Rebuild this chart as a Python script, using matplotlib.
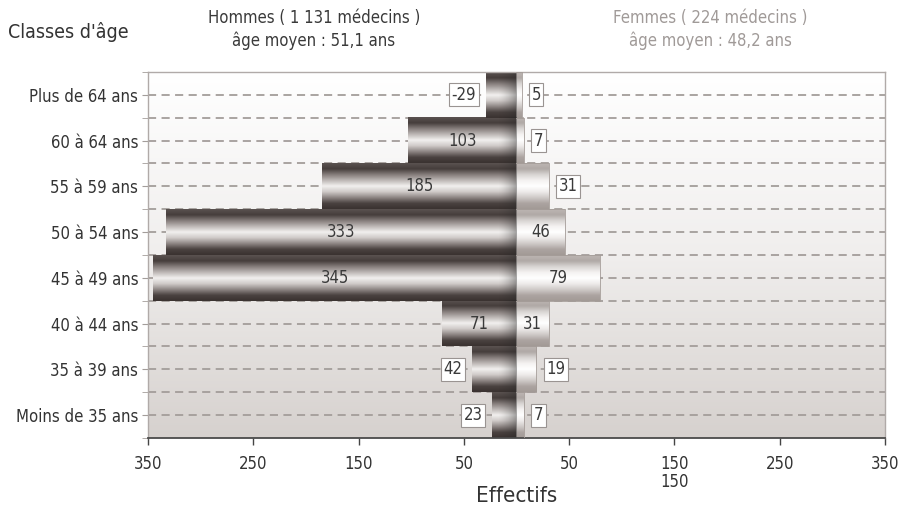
import numpy as np
import matplotlib.pyplot as plt
from matplotlib.colors import LinearSegmentedColormap
from matplotlib.transforms import blended_transform_factory

# ------------------------------
# Données
# ------------------------------
categories = ['Moins de 35 ans', '35 à 39 ans', '40 à 44 ans', '45 à 49 ans',
              '50 à 54 ans', '55 à 59 ans', '60 à 64 ans', 'Plus de 64 ans']
hommes = [23, 42, 71, 345, 333, 185, 103, 29]
femmes = [7, 19, 31, 79, 46, 31, 7, 5]
hommes_labels = ['23', '42', '71', '345', '333', '185', '103', '-29']
femmes_labels = ['7', '19', '31', '79', '46', '31', '7', '5']
# étiquettes encadrées (hors barre) ou centrées dans la barre
hommes_cadre = [True, True, False, False, False, False, False, True]
femmes_cadre = [True, True, False, False, False, True, True, True]

xticks = [-350, -250, -150, -50, 50, 150, 250, 350]
xtick_labels = ['350', '250', '150', '50', '50', '150', '250', '350']

plt.rcParams['font.family'] = ['DejaVu Sans']
plt.rcParams['font.stretch'] = 'condensed'

# Dégradés "cylindriques"
cmap_h = LinearSegmentedColormap.from_list(
    'h', ['#5a5250', '#463e3c', '#857d7b', '#bdb7b5', '#f2f0ef', '#cfcac8',
          '#8e8684', '#4a4240', '#3a3230'])
cmap_f = LinearSegmentedColormap.from_list(
    'f', ['#bdb6b3', '#b0a9a6', '#d8d4d2', '#f4f2f1', '#ffffff', '#eeebea',
          '#cfcac8', '#aca4a1', '#a29a96'])
cmap_bg = LinearSegmentedColormap.from_list('bg', ['#ffffff', '#f0eeed', '#d6d1ce'])

grad = np.linspace(0, 1, 256).reshape(-1, 1)
# assombrissement de l'extrémité des barres hommes (côté centre)
ombre = np.zeros((1, 64, 4))
ombre[0, :, :3] = 0.15
ombre[0, :, 3] = np.linspace(0, 0.55, 64) ** 1.5

FS = 12

fig = plt.figure(figsize=(9.07, 5.14), dpi=100)
ax = fig.add_axes([0.1632, 0.148, 0.8125, 0.712])

# fond
ax.imshow(grad, extent=[-350, 350, -0.5, 7.5], cmap=cmap_bg, aspect='auto',
          origin='upper', zorder=0)

# lignes pointillées
for yl in np.arange(0, 7.01, 0.5):
    ax.axhline(yl, color='#a39d9a', lw=1.3, dashes=(4.5, 3), zorder=1)

y = np.arange(len(categories))
for i in range(len(categories)):
    h = hommes[i]
    f = femmes[i]
    ax.imshow(grad, extent=[-h, 0, i - 0.5, i + 0.5], cmap=cmap_h,
              aspect='auto', origin='upper', zorder=2)
    ax.imshow(ombre, extent=[-min(h, 18), 0, i - 0.5, i + 0.5],
              aspect='auto', zorder=2.1)
    ax.imshow(grad, extent=[0, f, i - 0.5, i + 0.5], cmap=cmap_f,
              aspect='auto', origin='upper', zorder=2)
    ax.plot([0, f, f, 0], [i - 0.5, i - 0.5, i + 0.5, i + 0.5],
            color='#a49c98', lw=0.6, zorder=3)

    box = dict(boxstyle='square,pad=0.15', fc='white', ec='#9a9492', lw=0.8)
    if hommes_cadre[i]:
        ax.annotate(hommes_labels[i], (-h, i), xytext=(-7, 0),
                    textcoords='offset points', ha='right', va='center',
                    fontsize=FS, color='#3a3a3a', bbox=box, zorder=4)
    else:
        ax.text(-h / 2, i, hommes_labels[i], ha='center', va='center',
                fontsize=FS, color='#3a3a3a', zorder=4)
    if femmes_cadre[i]:
        ax.annotate(femmes_labels[i], (f, i), xytext=(7, 0),
                    textcoords='offset points', ha='left', va='center',
                    fontsize=FS, color='#3a3a3a', bbox=box, zorder=4)
    else:
        ax.text(f / 2, i, femmes_labels[i], ha='center', va='center',
                fontsize=FS, color='#3a3a3a', zorder=4)

ax.set_xlim(-350, 350)
ax.set_ylim(-0.5, 7.5)
ax.set_aspect('auto')

ax.set_yticks(y)
ax.set_yticklabels(categories, fontsize=FS, color='#333333')
ax.set_yticks(np.arange(-0.5, 7.6, 0.5), minor=True)
ax.tick_params(axis='y', which='major', length=4, color='#a39d9a', pad=3)
ax.tick_params(axis='y', which='minor', length=4, color='#a39d9a')
ax.set_xticks(xticks)
ax.set_xticklabels(xtick_labels, fontsize=FS, color='#333333')
ax.tick_params(axis='x', length=5, width=1, color='#444444', pad=7)

for s in ['top', 'right', 'left']:
    ax.spines[s].set_color('#b0aaa8')
    ax.spines[s].set_linewidth(1)
ax.spines['bottom'].set_color('#4a4a4a')
ax.spines['bottom'].set_linewidth(1.3)

# libellé dupliqué sous 150
trans = blended_transform_factory(ax.transData, ax.transAxes)
ax.text(150, -0.12, '150', transform=trans, ha='center', va='center',
        fontsize=FS, color='#333333')

ax.set_xlabel('Effectifs', fontsize=16, color='#333333', labelpad=10)

fig.text(8 / 907, 1 - 32 / 514, "Classes d'âge", ha='left', va='center',
         fontsize=14, color='#333333')
fig.text(314 / 907, 1 - 18 / 514, 'Hommes ( 1 131 médecins )', ha='center',
         va='center', fontsize=FS, color='#3a3a3a')
fig.text(314 / 907, 1 - 41 / 514, 'âge moyen : 51,1 ans', ha='center',
         va='center', fontsize=FS, color='#3a3a3a')
fig.text(710 / 907, 1 - 18 / 514, 'Femmes ( 224 médecins )', ha='center',
         va='center', fontsize=FS, color='#a09a98')
fig.text(710 / 907, 1 - 41 / 514, 'âge moyen : 48,2 ans', ha='center',
         va='center', fontsize=FS, color='#a09a98')

fig.savefig('out.png', dpi=100)
